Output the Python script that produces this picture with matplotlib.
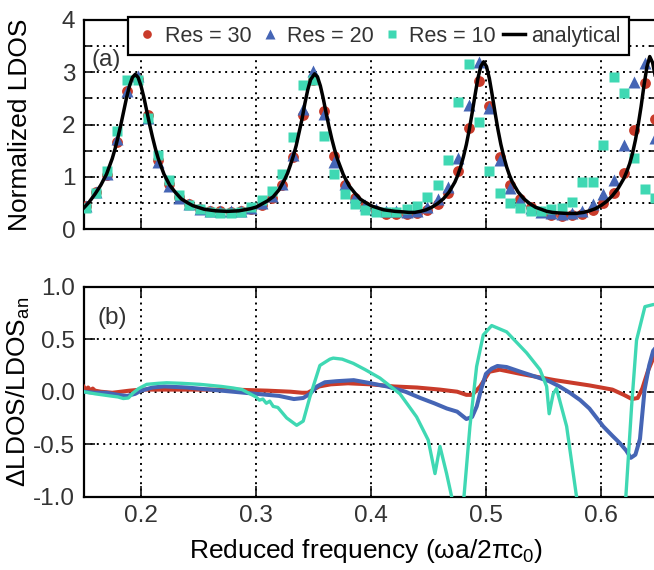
"""LDOS convergence figure: (a) normalized LDOS vs frequency, (b) relative error."""
import matplotlib
matplotlib.use("Agg")
import matplotlib.pyplot as plt
from matplotlib.ticker import MultipleLocator, NullLocator

plt.rcParams.update({
    "font.family": ["Liberation Sans", "DejaVu Sans"],
    "mathtext.fontset": "custom",
    "mathtext.rm": "Liberation Sans",
    "axes.unicode_minus": False,
    "text.color": "#333333",
    "xtick.color": "#111111",
    "ytick.color": "#111111",
    "xtick.labelcolor": "#333333",
    "ytick.labelcolor": "#333333",
})

RED = "#c93b2a"
BLUE = "#4565b5"
TEAL = "#3fd8b3"

# ---- panel (a): simulated points (same frequencies for all resolutions) ----
freq = [0.152, 0.161, 0.170, 0.179, 0.188, 0.197, 0.206, 0.215, 0.224, 0.233,
        0.242, 0.251, 0.260, 0.269, 0.278, 0.287, 0.296, 0.305, 0.314, 0.323,
        0.332, 0.341, 0.350, 0.359, 0.368, 0.377, 0.386, 0.395, 0.404, 0.413,
        0.422, 0.431, 0.440, 0.449, 0.458, 0.467, 0.476, 0.485, 0.494, 0.503,
        0.512, 0.521, 0.530, 0.539, 0.548, 0.557, 0.566, 0.575, 0.584, 0.593,
        0.602, 0.611, 0.620, 0.629, 0.638, 0.647]
ldos_res30 = [0.44, 0.71, 1.03, 1.66, 2.64, 2.88, 2.19, 1.33, 0.86, 0.61,
              0.48, 0.39, 0.35, 0.34, 0.33, 0.34, 0.38, 0.46, 0.59, 0.84,
              1.37, 2.18, 2.85, 2.26, 1.39, 0.84, 0.60, 0.44, 0.35, 0.29,
              0.28, 0.29, 0.31, 0.36, 0.48, 0.69, 1.12, 1.93, 2.84, 2.36,
              1.38, 0.84, 0.57, 0.42, 0.32, 0.27, 0.26, 0.27, 0.29, 0.36,
              0.50, 0.70, 1.07, 1.90, 2.80, 2.10]
ldos_res20 = [0.44, 0.71, 1.06, 1.72, 2.64, 2.92, 2.12, 1.28, 0.83, 0.60,
              0.48, 0.39, 0.35, 0.34, 0.34, 0.35, 0.40, 0.50, 0.63, 0.87,
              1.42, 2.29, 3.03, 2.20, 1.29, 0.87, 0.61, 0.46, 0.39, 0.35,
              0.34, 0.32, 0.35, 0.42, 0.58, 0.81, 1.36, 2.37, 3.20, 2.32,
              1.32, 0.78, 0.56, 0.41, 0.33, 0.30, 0.29, 0.31, 0.35, 0.48,
              0.67, 0.94, 1.60, 2.81, 3.18, 1.75]
ldos_res10 = [0.40, 0.69, 1.11, 1.87, 2.86, 2.86, 2.13, 1.42, 0.94, 0.65,
              0.46, 0.38, 0.33, 0.31, 0.31, 0.33, 0.42, 0.56, 0.73, 1.06,
              1.76, 2.76, 2.86, 1.79, 1.06, 0.68, 0.49, 0.37, 0.32, 0.32,
              0.33, 0.39, 0.45, 0.62, 0.84, 1.33, 2.44, 3.16, 2.05, 1.12,
              0.69, 0.50, 0.40, 0.34, 0.35, 0.38, 0.40, 0.51, 0.90, 0.90,
              1.60, 2.91, 2.60, 1.36, 0.77, 0.60]

# analytical LDOS
an_freq = [0.150, 0.155, 0.160, 0.165, 0.170, 0.175, 0.1775, 0.180, 0.1825, 0.185,
           0.1875, 0.190, 0.1925, 0.195, 0.1975, 0.200, 0.2025, 0.205, 0.2075, 0.210,
           0.2125, 0.215, 0.220, 0.225, 0.230, 0.235, 0.240, 0.245, 0.255, 0.265,
           0.275, 0.285, 0.295, 0.300, 0.305, 0.310, 0.315, 0.320, 0.325, 0.3275,
           0.330, 0.3325, 0.335, 0.3375, 0.340, 0.3425, 0.345, 0.3475, 0.351, 0.3535,
           0.356, 0.3585, 0.361, 0.3635, 0.366, 0.3685, 0.371, 0.376, 0.381, 0.386,
           0.391, 0.396, 0.401, 0.411, 0.421, 0.428, 0.433, 0.438, 0.443, 0.448,
           0.453, 0.458, 0.463, 0.468, 0.473, 0.4755, 0.478, 0.4805, 0.483, 0.4855,
           0.488, 0.4905, 0.493, 0.4955, 0.498, 0.5005, 0.503, 0.5055, 0.508, 0.5105,
           0.513, 0.5155, 0.518, 0.5205, 0.523, 0.528, 0.533, 0.538, 0.543, 0.548,
           0.553, 0.558, 0.563, 0.571, 0.578, 0.585, 0.590, 0.595, 0.600, 0.605,
           0.610, 0.615, 0.620, 0.6225, 0.625, 0.6275, 0.630, 0.6325, 0.635, 0.6375,
           0.640, 0.6425, 0.645, 0.6475, 0.650]
an_ldos = [0.40, 0.52, 0.67, 0.84, 1.05, 1.35, 1.54, 1.76, 2.00, 2.26,
           2.52, 2.74, 2.90, 2.96, 2.90, 2.74, 2.52, 2.26, 2.00, 1.76,
           1.54, 1.35, 1.05, 0.84, 0.70, 0.58, 0.51, 0.45, 0.38, 0.35,
           0.34, 0.35, 0.39, 0.42, 0.48, 0.54, 0.62, 0.75, 0.95, 1.07,
           1.23, 1.40, 1.60, 1.85, 2.10, 2.40, 2.66, 2.86, 2.97, 2.91,
           2.74, 2.50, 2.22, 1.96, 1.72, 1.51, 1.33, 1.04, 0.83, 0.69,
           0.57, 0.50, 0.44, 0.37, 0.34, 0.33, 0.32, 0.32, 0.34, 0.37,
           0.42, 0.49, 0.58, 0.71, 0.90, 1.03, 1.19, 1.39, 1.62, 1.90,
           2.22, 2.56, 2.88, 3.11, 3.20, 3.11, 2.88, 2.56, 2.22, 1.90,
           1.62, 1.39, 1.19, 1.03, 0.90, 0.71, 0.58, 0.49, 0.42, 0.38,
           0.34, 0.32, 0.31, 0.30, 0.30, 0.32, 0.35, 0.39, 0.45, 0.53,
           0.64, 0.78, 0.97, 1.10, 1.25, 1.45, 1.70, 2.00, 2.35, 2.75,
           3.10, 3.30, 3.18, 2.90, 2.55]

# ---- panel (b): relative error curves ----
err30_freq = [0.150, 0.152, 0.154, 0.156, 0.158, 0.160, 0.165, 0.175, 0.190, 0.200,
              0.220, 0.250, 0.280, 0.310, 0.330, 0.340, 0.345, 0.350, 0.355, 0.365,
              0.380, 0.400, 0.420, 0.440, 0.460, 0.475, 0.483, 0.488, 0.495, 0.503,
              0.512, 0.530, 0.560, 0.590, 0.610, 0.620, 0.627, 0.632, 0.636, 0.641,
              0.646, 0.650]
err30 = [0.05, 0.02, 0.04, 0.01, 0.03, 0.01, 0.00, -0.01, 0.01, 0.02,
         0.02, 0.02, 0.02, 0.01, 0.00, -0.01, -0.01, 0.02, 0.05, 0.07,
         0.08, 0.07, 0.05, 0.04, 0.02, 0.00, -0.03, -0.03, 0.05, 0.19,
         0.21, 0.17, 0.11, 0.06, 0.02, -0.03, -0.07, -0.06, 0.03, 0.20,
         0.33, 0.42]

err20_freq = [0.150, 0.160, 0.170, 0.180, 0.188, 0.195, 0.200, 0.210, 0.220, 0.240,
              0.260, 0.280, 0.300, 0.310, 0.320, 0.333, 0.341, 0.347, 0.353, 0.360,
              0.370, 0.385, 0.400, 0.414, 0.430, 0.443, 0.455, 0.466, 0.475, 0.483,
              0.488, 0.492, 0.496, 0.500, 0.505, 0.510, 0.518, 0.530, 0.544, 0.555,
              0.564, 0.573, 0.582, 0.590, 0.602, 0.610, 0.6165, 0.622, 0.626, 0.630,
              0.634, 0.638, 0.642, 0.6455, 0.650]
err20 = [0.00, -0.01, -0.01, -0.03, -0.04, -0.02, 0.01, 0.04, 0.05, 0.04,
         0.02, 0.00, -0.02, -0.03, -0.04, -0.07, -0.06, -0.02, 0.05, 0.09,
         0.10, 0.11, 0.08, 0.05, 0.00, -0.06, -0.11, -0.16, -0.19, -0.26,
         -0.24, -0.14, 0.03, 0.17, 0.22, 0.245, 0.235, 0.19, 0.14, 0.10,
         0.05, -0.01, -0.08, -0.16, -0.33, -0.42, -0.49, -0.56, -0.63, -0.60,
         -0.45, 0.02, 0.25, 0.39, 0.45]

err10_freq = [0.150, 0.160, 0.173, 0.180, 0.1846, 0.189, 0.1933, 0.198, 0.205, 0.215,
              0.2223, 0.235, 0.2513, 0.270, 0.2803, 0.288, 0.2948, 0.300, 0.303, 0.306,
              0.309, 0.312, 0.315, 0.319, 0.3267, 0.3354, 0.3411, 0.3469, 0.3556, 0.3643,
              0.3672, 0.375, 0.3846, 0.395, 0.4078, 0.4252, 0.4397, 0.4498, 0.4557, 0.4600,
              0.4658, 0.4702, 0.4755, 0.4809, 0.4861, 0.4919, 0.4977, 0.505, 0.518, 0.5354,
              0.547, 0.5528, 0.555, 0.5585, 0.5614, 0.5702, 0.5788, 0.600, 0.6217, 0.6267,
              0.631, 0.6383, 0.6455, 0.650]
err10 = [0.00, -0.02, -0.04, -0.05, -0.065, -0.06, -0.01, 0.03, 0.07, 0.08,
         0.085, 0.08, 0.07, 0.05, 0.035, 0.02, -0.02, -0.05, -0.08, -0.07,
         -0.11, -0.09, -0.14, -0.15, -0.25, -0.32, -0.28, -0.05, 0.25, 0.31,
         0.32, 0.31, 0.27, 0.21, 0.13, -0.02, -0.24, -0.46, -0.78, -0.52,
         -0.78, -1.00, -1.60, -1.00, -0.33, 0.24, 0.54, 0.63, 0.57, 0.37,
         0.21, 0.05, -0.21, -0.02, 0.03, -0.33, -1.00, -2.50, -1.00, -0.14,
         0.49, 0.81, 0.83, 0.83]

dots = (0, (1, 2.3))

fig = plt.figure(figsize=(6.54, 5.70), dpi=100)
ax_a = fig.add_axes([0.1277, 0.598, 0.879, 0.367])
ax_b = fig.add_axes([0.1277, 0.1286, 0.879, 0.3684])

ax_a.plot(freq, ldos_res30, "o", color=RED, ms=7.8, mec="none", label="Res = 30", zorder=3)
ax_a.plot(freq, ldos_res20, "^", color=BLUE, ms=8.2, mec="none", label="Res = 20", zorder=4)
ax_a.plot(freq, ldos_res10, "s", color=TEAL, ms=7.8, mec="none", label="Res = 10", zorder=5)
ax_a.plot(an_freq, an_ldos, color="black", lw=2.5, label="analytical", zorder=6)

ax_b.plot(err30_freq, err30, color=RED, lw=2.9, zorder=3)
ax_b.plot(err20_freq, err20, color=BLUE, lw=2.9, zorder=4)
ax_b.plot(err10_freq, err10, color=TEAL, lw=2.4, zorder=5)

for ax in (ax_a, ax_b):
    ax.set_xlim(0.15, 0.65)
    ax.xaxis.set_major_locator(MultipleLocator(0.1))
    ax.xaxis.set_minor_locator(NullLocator())
    ax.tick_params(which="both", direction="in", top=True, right=True,
                   labelsize=17.5, pad=6, width=1.2)
    ax.tick_params(which="major", length=8)
    ax.tick_params(which="minor", length=6)
    for s in ax.spines.values():
        s.set_linewidth(1.6)

ax_a.set_ylim(0, 4)
ax_a.yaxis.set_major_locator(MultipleLocator(1))
ax_a.yaxis.set_minor_locator(MultipleLocator(0.5))
ax_a.tick_params(labelbottom=False)
ax_a.grid(True, which="both", ls=dots, color="black", lw=1.4)

ax_b.set_ylim(-1, 1)
ax_b.set_yticks([1.0, 0.5, 0.0, -0.5, -1.0])
ax_b.set_yticklabels(["1.0", "0.5", "0.0", "-0.5", "-1.0"])
ax_b.set_xticks([0.2, 0.3, 0.4, 0.5, 0.6])
ax_b.set_xticklabels(["0.2", "0.3", "0.4", "0.5", "0.6"])
ax_b.grid(True, which="major", ls=dots, color="black", lw=1.4)

ax_a.set_ylabel("Normalized LDOS", fontsize=19)
ax_a.yaxis.set_label_coords(-0.09, 0.5)
ax_b.set_ylabel("ΔLDOS/LDOS$_{\\rm an}$", fontsize=19)
ax_b.yaxis.set_label_coords(-0.09, 0.5)
ax_b.set_xlabel("Reduced frequency (ωa/2πc$_0$)", fontsize=19)
ax_b.xaxis.set_label_coords(0.491, -0.19)

ax_a.text(0.039, 0.81, "(a)", transform=ax_a.transAxes, fontsize=17.5,
          ha="center", va="center")
ax_b.text(0.05, 0.85, "(b)", transform=ax_b.transAxes, fontsize=17.5,
          ha="center", va="center")

leg = ax_a.legend(loc="upper left", bbox_to_anchor=(0.1957, 0.970),
                  bbox_transform=fig.transFigure, ncol=4, fontsize=15.5,
                  numpoints=1, markerscale=0.8, handlelength=1.0,
                  handletextpad=0.3, columnspacing=0.35, borderpad=0.4,
                  borderaxespad=0, fancybox=False, framealpha=1,
                  edgecolor="black")
leg.get_frame().set_linewidth(1.6)
leg.set_zorder(10)

fig.savefig("out.png", dpi=100)
